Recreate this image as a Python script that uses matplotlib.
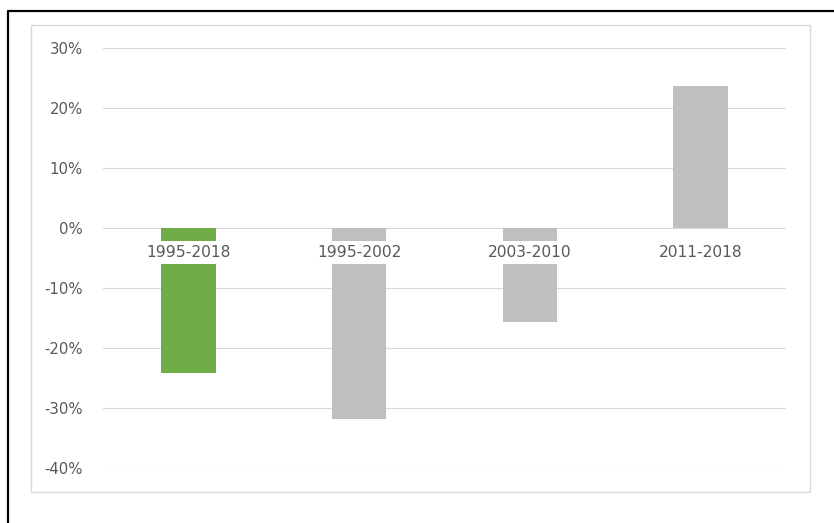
import matplotlib
matplotlib.use("Agg")
from matplotlib import pyplot as plt
from matplotlib.patches import Rectangle
from matplotlib.lines import Line2D

# data
periods = ["1995-2018", "1995-2002", "2003-2010", "2011-2018"]
change = [-0.242, -0.318, -0.157, 0.237]
bar_colors = ["#70AD47", "#BFBFBF", "#BFBFBF", "#BFBFBF"]
yticks = [-0.4, -0.3, -0.2, -0.1, 0.0, 0.1, 0.2, 0.3]

W, H = 834, 523
fig = plt.figure(figsize=(W / 100, H / 100), dpi=100)
fig.patch.set_facecolor("white")

# plot area in pixels
left, right, top, bottom = 103, 786, 48, 468
ax = fig.add_axes([left / W, 1 - bottom / H, (right - left) / W, (bottom - top) / H])

x = range(len(periods))
ax.bar(x, change, width=0.32, color=bar_colors, zorder=2)

ax.set_xlim(-0.5, len(periods) - 0.5)
ax.set_ylim(-0.4, 0.3)
ax.set_yticks(yticks)
ax.set_yticklabels([f"{round(v * 100)}%" for v in yticks])
ax.tick_params(axis="y", length=0, pad=14.5, labelsize=10.7, labelcolor="#595959")
ax.set_xticks([])
ax.yaxis.grid(True, color="#D9D9D9", linewidth=0.8, zorder=0)
ax.set_axisbelow(True)
for s in ax.spines.values():
    s.set_visible(False)

# category labels sit just under the zero line, masking the bars
for i, name in enumerate(periods):
    ax.annotate(name, xy=(i, 0), xytext=(0, -24.5), textcoords="offset pixels",
                ha="center", va="center", fontsize=11.2, color="#595959", zorder=3,
                bbox=dict(boxstyle="square,pad=0.27", facecolor="white", edgecolor="none"))

# light chart-area frame
fig.patches.append(Rectangle((31 / W, 1 - 492 / H), (810 - 31) / W, (492 - 25) / H,
                             transform=fig.transFigure, fill=False,
                             edgecolor="#D9D9D9", linewidth=1.0))
# black outer frame (cut at right and bottom)
fig.lines.append(Line2D([8 / W, 8 / W, 1.0], [0.0, 1 - 11 / H, 1 - 11 / H],
                        transform=fig.transFigure, color="black", linewidth=1.6))

fig.savefig("out.png", dpi=100)
